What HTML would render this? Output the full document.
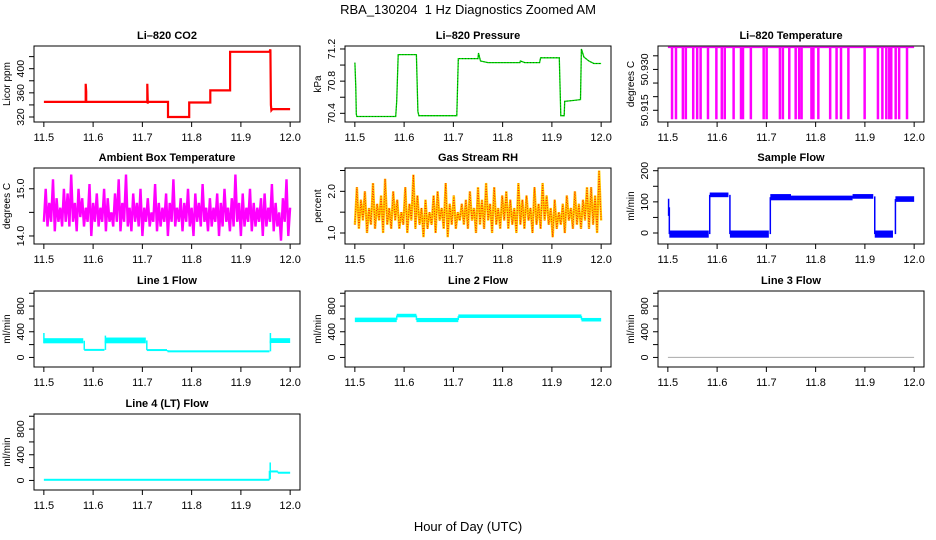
<!DOCTYPE html>
<html><head><meta charset="utf-8">
<style>
html,body{margin:0;padding:0;background:#fff;}
svg{display:block;font-family:"Liberation Sans",sans-serif;}
</style></head>
<body>
<svg id="fig" width="936" height="540" viewBox="0 0 936 540" xmlns="http://www.w3.org/2000/svg">
<text x="468" y="14" text-anchor="middle" font-size="13" xml:space="preserve">RBA_130204  1 Hz Diagnostics Zoomed AM</text>
<text x="468" y="531" text-anchor="middle" font-size="13">Hour of Day (UTC)</text>
</svg>
<script>
// ---- data ----
const xTicks = [11.5, 11.6, 11.7, 11.8, 11.9, 12.0];
const xTickLabels = ["11.5", "11.6", "11.7", "11.8", "11.9", "12.0"];

const co2Times = [11.5,11.585,11.585,11.586,11.586,11.71,11.71,11.711,11.711,11.752,11.752,11.795,11.795,11.838,11.838,11.878,11.878,11.958,11.96,11.961,11.962,11.964,12.0];
const co2Values = [345,345,375,362,345,345,375,342,345,345,320,320,344,344,364,364,428,428,432,340,331,333,333];

const presTimes = [11.5,11.502,11.503,11.504,11.583,11.585,11.588,11.625,11.628,11.63,11.707,11.71,11.75,11.751,11.755,11.77,11.835,11.836,11.845,11.875,11.877,11.915,11.918,11.925,11.926,11.945,11.958,11.96,11.965,11.975,11.985,12.0];
const presValues = [71.03,70.72,70.39,70.36,70.36,70.55,71.13,71.13,70.42,70.37,70.37,71.08,71.08,71.15,71.05,71.03,71.03,71.05,71.03,71.03,71.09,71.09,70.37,70.37,70.55,70.56,70.57,71.2,71.1,71.05,71.02,71.02];

const tempHigh = 50.9381;
const tempLow = 50.9117;
const tempDipTimes = [11.508,11.516,11.530,11.536,11.551,11.559,11.566,11.581,11.598,11.609,11.615,11.633,11.648,11.652,11.668,11.694,11.700,11.727,11.733,11.746,11.759,11.766,11.771,11.791,11.795,11.805,11.829,11.842,11.851,11.866,11.899,11.926,11.935,11.943,11.949,11.953,11.962,11.969,11.985];

const ambValues = [14.3,15.0,14.2,14.7,14.3,15.2,14.1,14.8,14.3,14.6,14.2,15.0,14.3,14.9,14.2,15.3,14.3,14.7,14.1,15.0,14.4,14.8,14.2,14.6,14.3,15.1,14.0,14.7,14.3,14.9,14.2,14.6,14.3,15.0,14.1,14.8,14.3,14.5,14.2,14.9,14.3,15.2,14.1,14.7,14.3,15.3,14.2,14.6,14.1,14.9,14.3,14.7,14.2,15.0,14.0,14.6,14.3,14.8,14.2,14.5,14.3,15.1,14.1,14.7,14.2,14.6,14.3,14.9,14.0,14.7,14.3,15.2,14.2,14.6,14.3,14.8,14.1,14.7,14.3,15.0,14.2,14.6,14.0,14.9,14.3,14.7,14.2,15.1,14.3,14.6,14.1,14.8,14.2,14.6,14.3,14.9,14.0,14.7,14.2,15.0,14.3,14.6,14.1,14.8,14.2,15.3,14.3,14.7,14.0,14.9,14.2,14.6,14.3,15.0,14.1,14.7,14.2,14.6,14.3,14.8,14.0,14.9,14.2,14.6,14.3,15.1,14.1,14.7,14.2,14.5,13.9,14.8,14.3,15.2,14.0,14.6];

const rhValues = [1.2,2.1,1.1,1.8,1.3,2.0,1.0,1.6,1.2,2.2,1.1,1.7,1.3,1.9,1.0,2.3,1.2,1.6,1.1,2.0,1.3,1.8,1.1,1.5,1.2,2.1,1.0,1.7,1.3,2.4,1.1,1.9,1.2,1.6,0.9,1.8,1.1,1.5,1.2,1.9,1.0,2.0,1.3,1.6,1.1,2.2,0.9,1.7,1.2,1.9,1.1,1.5,1.3,1.7,1.2,1.8,1.1,2.0,1.3,1.6,1.0,2.1,1.2,1.8,1.1,2.2,1.3,1.7,1.0,2.1,1.2,1.6,1.1,1.9,1.3,2.0,1.1,1.8,1.2,1.6,1.0,2.2,1.2,1.8,1.1,1.9,1.3,1.6,1.0,2.1,1.2,1.7,1.1,2.2,1.3,1.9,1.2,1.6,0.9,1.8,1.1,1.5,1.2,1.7,1.0,1.9,1.3,1.6,1.1,2.0,1.2,1.7,1.1,1.8,1.3,2.1,1.1,2.1,1.2,1.9,1.0,2.5,1.3];

const sfStart = [11.5,11.503,11.585,11.626,11.708,11.75,11.875,11.92,11.962];
const sfEnd   = [11.503,11.583,11.623,11.705,11.75,11.875,11.917,11.957,12.0];
const sfLow   = [55,-15,115,-15,105,105,110,-15,100];
const sfHigh  = [110,8,130,8,125,120,125,8,118];

const l1Start = [11.5,11.582,11.625,11.709,11.751,11.96];
const l1End   = [11.58,11.623,11.707,11.75,11.958,12.0];
const l1Low   = [220,110,220,105,90,225];
const l1High  = [300,125,310,125,100,300];

const l2Start = [11.5,11.585,11.625,11.71,11.96];
const l2End   = [11.585,11.625,11.71,11.96,12.0];
const l2Low   = [550,625,550,615,560];
const l2High  = [620,680,615,670,615];

const l3Start = [11.5];
const l3End   = [12.0];
const l3Low   = [0];
const l3High  = [0];

const l4Start = [11.5,11.958,11.96,11.975];
const l4End   = [11.958,11.96,11.975,12.0];
const l4Low   = [0,20,130,115];
const l4High  = [20,280,150,125];

// ---- layout ----
const colLeft = [34, 345, 658];
const rowTop = [46, 168, 291, 414];
const PW = 266, PH = 76;
const svg = document.getElementById('fig');
const NS = 'http://www.w3.org/2000/svg';
function mk(tag, attrs, parent) {
  const e = document.createElementNS(NS, tag);
  for (const k in attrs) e.setAttribute(k, attrs[k]);
  (parent || svg).appendChild(e);
  return e;
}

function panel(cfg) {
  const L = colLeft[cfg.col], T = rowTop[cfg.row], B = T + PH, R = L + PW;
  const g = mk('g', {});
  
  
  const x = t => L + (t - 11.48) / 0.54 * PW;
  const y = v => B - (v - cfg.ylim[0]) / (cfg.ylim[1] - cfg.ylim[0]) * PH;
  const box = mk('rect', {x: L, y: T, width: PW, height: PH, fill: 'none', stroke: '#000', 'stroke-width': 1}, g);
  
  
  const title = mk('text', {x: (L + R) / 2, y: T - 7, 'text-anchor': 'middle', 'font-size': 11, 'font-weight': 'bold'}, g);
  title.textContent = cfg.title;
  
  
  const xa = mk('g', {}, g);
  
  
  mk('line', {x1: x(xTicks[0]), x2: x(xTicks[xTicks.length - 1]), y1: B, y2: B, stroke: '#000'}, xa);
  xTicks.forEach((t, i) => {
    mk('line', {x1: x(t), x2: x(t), y1: B, y2: B + 5, stroke: '#000'}, xa);
    const tl = mk('text', {x: x(t), y: B + 19, 'text-anchor': 'middle', 'font-size': 11}, xa);
    tl.textContent = xTickLabels[i];
    
    
  });
  const ya = mk('g', {}, g);
  
  
  mk('line', {x1: L, x2: L, y1: y(cfg.yticks[0]), y2: y(cfg.yticks[cfg.yticks.length - 1]), stroke: '#000'}, ya);
  cfg.yticks.forEach((v, i) => {
    mk('line', {x1: L - 5, x2: L, y1: y(v), y2: y(v), stroke: '#000'}, ya);
    if (cfg.ylabels[i]) {
      const yy = y(v);
      const tl = mk('text', {x: L - 10, y: yy, 'text-anchor': 'middle', 'font-size': 10.5, transform: `rotate(-90 ${L - 10} ${yy})`}, ya);
      tl.textContent = cfg.ylabels[i];
      
      
    }
  });
  const yt = mk('text', {x: L - 24, y: (T + B) / 2, 'text-anchor': 'middle', 'font-size': 10, transform: `rotate(-90 ${L - 24} ${(T + B) / 2})`}, g);
  yt.textContent = cfg.ylab;
  
  
  const s = mk('g', {}, g);
  
  
  cfg.draw(s, x, y);
}

function polyline(g, x, y, ts, vs, color, w, extra) {
  const pts = ts.map((t, i) => x(t).toFixed(1) + ',' + y(vs[i]).toFixed(1)).join(' ');
  const p = mk('polyline', Object.assign({points: pts, fill: 'none', stroke: color, 'stroke-width': w}, extra || {}), g);
  
  
}
function evenTimes(n) { const a = []; for (let i = 0; i < n; i++) a.push(11.5 + i * 0.5 / (n - 1)); return a; }
function bands(g, x, y, st, en, lo, hi, color) {
  for (let i = 0; i < st.length; i++) {
    const y1 = y(hi[i]), y2 = y(lo[i]);
    const h = Math.max(2, y2 - y1);
    const r = mk('rect', {x: x(st[i]), y: (y1 + y2) / 2 - h / 2, width: Math.max(1.5, x(en[i]) - x(st[i])), height: h, fill: color}, g);
    
    
    if (i > 0) {
      const pm = (lo[i - 1] + hi[i - 1]) / 2, cm = (lo[i] + hi[i]) / 2;
      mk('line', {x1: x(st[i]), x2: x(st[i]), y1: y(pm), y2: y(cm), stroke: color, 'stroke-width': 1.5}, g);
    }
  }
}

const flowTicks = [0, 200, 400, 600, 800, 1000];
const flowLabels = ["0", "", "400", "", "800", ""];

panel({name: 'panel-co2', col: 0, row: 0, title: 'Li\u2013820 CO2', ylab: 'Licor ppm', ylim: [311.7, 437.6],
  yticks: [320, 340, 360, 380, 400, 420], ylabels: ["320", "", "360", "", "400", ""],
  draw: (g, x, y) => polyline(g, x, y, co2Times, co2Values, '#ff0000', 2.2)});
panel({name: 'panel-pressure', col: 1, row: 0, title: 'Li\u2013820 Pressure', ylab: 'kPa', ylim: [70.292, 71.237],
  yticks: [70.4, 70.6, 70.8, 71.0, 71.2], ylabels: ["70.4", "", "70.8", "", "71.2"],
  draw: (g, x, y) => { polyline(g, x, y, presTimes, presValues, '#00dd00', 1.3); polyline(g, x, y, presTimes, presValues, '#000', 1, {'stroke-dasharray': '1,2', opacity: 0.5}); }});
panel({name: 'panel-li820-temperature', col: 2, row: 0, title: 'Li\u2013820 Temperature', ylab: 'degrees C', ylim: [50.9107, 50.9386],
  yticks: [50.915, 50.920, 50.925, 50.930, 50.935], ylabels: ["50.915", "", "", "50.930", ""],
  draw: (g, x, y) => {
    polyline(g, x, y, [11.5, 12.0], [tempHigh, tempHigh], '#ff00ff', 1.5);
    tempDipTimes.forEach(t => {
      const r = mk('rect', {x: x(t) - 1, y: y(tempHigh), width: 2.5, height: y(tempLow) - y(tempHigh), fill: '#ff00ff'}, g);
      
      
    });
  }});
panel({name: 'panel-ambient-box-temperature', col: 0, row: 1, title: 'Ambient Box Temperature', ylab: 'degrees C', ylim: [13.83, 15.44],
  yticks: [14.0, 14.5, 15.0], ylabels: ["14.0", "", "15.0"],
  draw: (g, x, y) => polyline(g, x, y, evenTimes(ambValues.length), ambValues, '#ff00ff', 2.4)});
panel({name: 'panel-gas-stream-rh', col: 1, row: 1, title: 'Gas Stream RH', ylab: 'percent', ylim: [0.736, 2.56],
  yticks: [1.0, 1.5, 2.0, 2.5], ylabels: ["1.0", "", "2.0", ""],
  draw: (g, x, y) => { const ts = evenTimes(rhValues.length);
    polyline(g, x, y, ts, rhValues, '#ffcc00', 2.4);
    polyline(g, x, y, ts, rhValues, '#ff2000', 1, {'stroke-dasharray': '1,1.5'}); }});
panel({name: 'panel-sample-flow', col: 2, row: 1, title: 'Sample Flow', ylab: 'ml/min', ylim: [-35.3, 208.7],
  yticks: [0, 50, 100, 150, 200], ylabels: ["0", "", "100", "", "200"],
  draw: (g, x, y) => bands(g, x, y, sfStart, sfEnd, sfLow, sfHigh, '#0000ff')});
panel({name: 'panel-line1-flow', col: 0, row: 2, title: 'Line 1 Flow', ylab: 'ml/min', ylim: [-149, 1035],
  yticks: flowTicks, ylabels: flowLabels,
  draw: (g, x, y) => { bands(g, x, y, l1Start, l1End, l1Low, l1High, '#00ffff'); polyline(g, x, y, [11.5, 11.5], [220, 380], '#00ffff', 1.5); polyline(g, x, y, [11.625, 11.625], [220, 340], '#00ffff', 1.5); polyline(g, x, y, [11.96, 11.96], [220, 380], '#00ffff', 1.5); }});
panel({name: 'panel-line2-flow', col: 1, row: 2, title: 'Line 2 Flow', ylab: 'ml/min', ylim: [-149, 1035],
  yticks: flowTicks, ylabels: flowLabels,
  draw: (g, x, y) => bands(g, x, y, l2Start, l2End, l2Low, l2High, '#00ffff')});
panel({name: 'panel-line3-flow', col: 2, row: 2, title: 'Line 3 Flow', ylab: 'ml/min', ylim: [-149, 1035],
  yticks: flowTicks, ylabels: flowLabels,
  draw: (g, x, y) => polyline(g, x, y, [l3Start[0], l3End[0]], [l3Low[0], l3High[0]], '#aaaaaa', 1)});
panel({name: 'panel-line4-flow', col: 0, row: 3, title: 'Line 4 (LT) Flow', ylab: 'ml/min', ylim: [-149, 1035],
  yticks: flowTicks, ylabels: flowLabels,
  draw: (g, x, y) => bands(g, x, y, l4Start, l4End, l4Low, l4High, '#00ffff')});
</script>
</body></html>
